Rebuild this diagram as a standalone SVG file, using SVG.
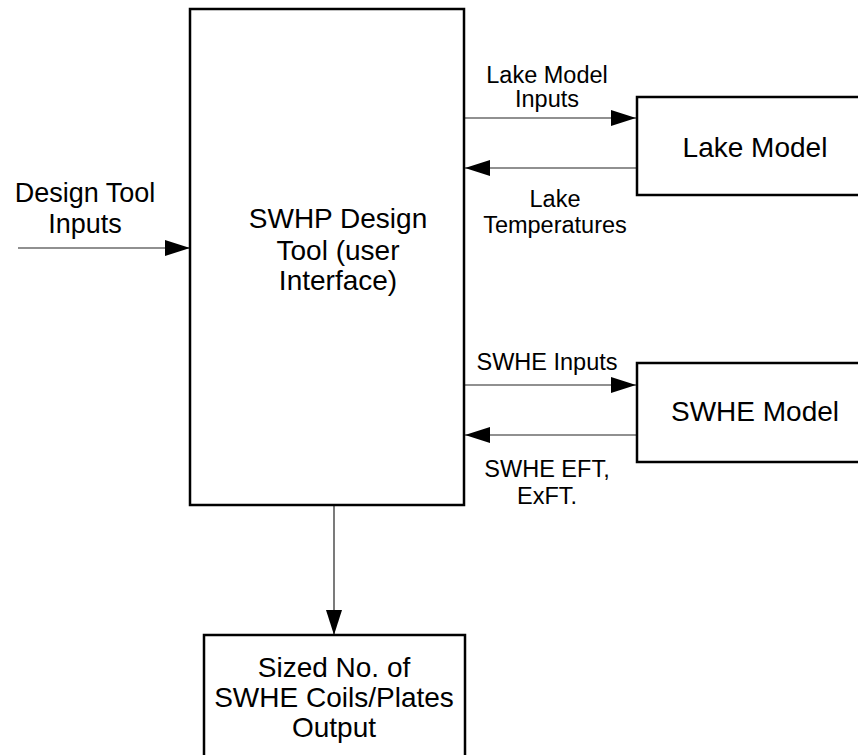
<svg xmlns="http://www.w3.org/2000/svg" width="858" height="755" viewBox="0 0 858 755">
<style>
.box{fill:#fff;stroke:#000;stroke-width:2.5}
.t{font-family:"Liberation Sans",Arial,sans-serif;font-size:28px;fill:#000;text-anchor:middle}
.l{font-family:"Liberation Sans",Arial,sans-serif;font-size:23.5px;fill:#000;text-anchor:middle}
.c{stroke:#222;stroke-width:1.2;fill:none;marker-end:url(#ah)}
</style>
<defs>
<marker id="ah" viewBox="0 0 25 16" refX="25" refY="8" markerWidth="25" markerHeight="16" markerUnits="userSpaceOnUse" orient="auto">
<path d="M0,0 L25,8 L0,16 Z" fill="#000"/>
</marker>
</defs>
<rect width="858" height="755" fill="#fff"/>
<g id="connectors">
<line class="c" x1="18" y1="248" x2="190" y2="248"/>
<line class="c" x1="464" y1="118" x2="636" y2="118"/>
<line class="c" x1="637" y1="168" x2="465" y2="168"/>
<line class="c" x1="464" y1="385" x2="636" y2="385"/>
<line class="c" x1="637" y1="435" x2="465" y2="435"/>
<line class="c" x1="334" y1="505" x2="334" y2="635"/>
<text class="l" x="85" y="202" style="font-size:27px">Design Tool</text>
<text class="l" x="85" y="233" style="font-size:27px">Inputs</text>
<text class="l" x="547" y="83">Lake Model</text>
<text class="l" x="547" y="107">Inputs</text>
<text class="l" x="555" y="207">Lake</text>
<text class="l" x="555" y="233">Temperatures</text>
<text class="l" x="547" y="370">SWHE Inputs</text>
<text class="l" x="547" y="477">SWHE EFT,</text>
<text class="l" x="547" y="504">ExFT.</text>
</g>
<g id="design-tool">
<rect class="box" x="190" y="9" width="274" height="496"/>
<text class="t" x="338" y="228">SWHP Design</text>
<text class="t" x="338" y="260">Tool (user</text>
<text class="t" x="338" y="290">Interface)</text>
</g>
<g id="lake-model">
<rect class="box" x="637" y="97" width="236" height="98"/>
<text class="t" x="755" y="157">Lake Model</text>
</g>
<g id="swhe-model">
<rect class="box" x="637" y="363" width="236" height="99"/>
<text class="t" x="755" y="421">SWHE Model</text>
</g>
<g id="output">
<rect class="box" x="204" y="635" width="261" height="140"/>
<text class="t" x="334" y="677">Sized No. of</text>
<text class="t" x="334" y="707">SWHE Coils/Plates</text>
<text class="t" x="334" y="737">Output</text>
</g>
</svg>
